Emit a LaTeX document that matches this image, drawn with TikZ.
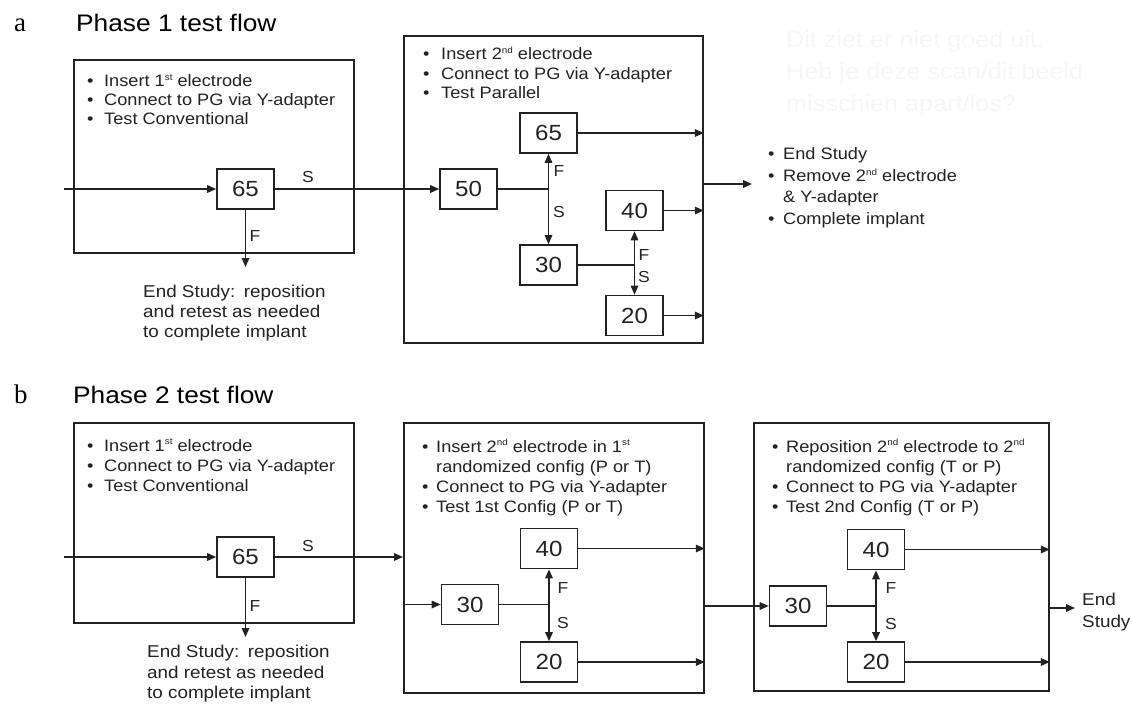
\documentclass[tikz,border=0pt]{standalone}
\usepackage{fontspec}
\setsansfont[FakeStretch=1.1]{Liberation Sans}
\newfontfamily\panelfont{Liberation Serif}
\usetikzlibrary{arrows.meta}
\definecolor{ink}{HTML}{222222}
\definecolor{ghost}{HTML}{F6F6F6}
\tikzset{
  frame/.style={draw=ink, line width=1.8bp, inner sep=0pt, anchor=north west},
  numbox/.style={draw=ink, line width=1.6bp, minimum width=57bp, minimum height=40bp, inner sep=0pt,
    font=\sffamily\fontsize{22}{22}\selectfont, text=ink},
  txt/.style={anchor=base west, inner sep=0pt, font=\sffamily\fontsize{16.6}{20}\selectfont, text=ink},
  endtxt/.style={anchor=base west, inner sep=0pt, font=\sffamily\fontsize{17.2}{20}\selectfont, text=ink},
  lbl/.style={anchor=base, inner sep=0pt, font=\sffamily\fontsize{16}{16}\selectfont, text=ink},
  ttl/.style={anchor=base west, inner sep=0pt, font=\sffamily\fontsize{24}{24}\selectfont, text=black},
  panel/.style={anchor=base west, inner sep=0pt, font=\panelfont\fontsize{27}{27}\selectfont, text=black},
  ghosttxt/.style={anchor=base west, inner sep=0pt, font=\sffamily\fontsize{23}{23}\selectfont, text=ghost},
  conn/.style={draw=ink, line width=1.6bp},
  arr/.style={conn, -{Triangle[length=9bp,width=7.5bp]}},
  arrtwo/.style={conn, {Triangle[length=9bp,width=7.5bp]}-{Triangle[length=9bp,width=7.5bp]}},
}
\newcommand\bitem[5]{\node[txt] (#1) at (#2,#3) {\makebox[#4][l]{\textbullet}#5};}
\newcommand\supx[1]{\raisebox{0.42em}{\fontsize{9}{9}\selectfont #1}}
\newcommand\sth{\supx{st}}
\newcommand\ndh{\supx{nd}}
\begin{document}
\begin{tikzpicture}[x=1bp,y=-1bp]
\useasboundingbox (0,0) rectangle (1132,704);

% ghost text (bleed-through)
\node[ghosttxt] (g1) at (786,48) {Dit ziet er niet goed uit.};
\node[ghosttxt] (g2) at (786,80) {Heb je deze scan/dit beeld};
\node[ghosttxt] (g3) at (786,112) {misschien apart/los?};

% ================= Panel a =================
\node[panel] (pa) at (14,32) {a};
\node[ttl] (ta) at (76,32) {Phase 1 test flow};

\node[frame, minimum width=280bp, minimum height=193bp] (A1) at (73,59) {};
\bitem{a1l1}{87}{87}{17bp}{Insert 1\sth\ electrode}
\bitem{a1l2}{87}{106}{17bp}{Connect to PG via Y-adapter}
\bitem{a1l3}{87}{125}{17bp}{Test Conventional}

\node[numbox] (a65) at (245.5,189) {65};
\coordinate (ain) at (64,189);
\coordinate (aF) at (245.5,267);
\node[lbl] (aS1) at (308,183) {S};
\node[lbl] (aF1) at (255,241) {F};
\node[endtxt] (ae1) at (143,297) {End Study:\hspace{0.5em}reposition};
\node[endtxt] (ae2) at (143,317) {and retest as needed};
\node[endtxt] (ae3) at (143,337) {to complete implant};

\node[frame, minimum width=299bp, minimum height=307bp] (A2) at (403,35) {};
\bitem{a2l1}{423}{60}{18bp}{Insert 2\ndh\ electrode}
\bitem{a2l2}{423}{80}{18bp}{Connect to PG via Y-adapter}
\bitem{a2l3}{423}{99}{18bp}{Test Parallel}

\node[numbox] (a50) at (468.5,189) {50};
\node[numbox] (a65b) at (548.5,133) {65};
\node[numbox] (a30) at (548.5,265) {30};
\node[numbox] (a40) at (634.5,210.5) {40};
\node[numbox] (a20) at (634.5,315.5) {20};
\coordinate (aj1) at (548.5,189);
\coordinate (aj2) at (634.5,265);
\node[lbl] (aF2) at (559,177) {F};
\node[lbl] (aS2) at (559,218) {S};
\node[lbl] (aF3) at (644,260) {F};
\node[lbl] (aS3) at (644,282) {S};
\coordinate (aout) at (752,184);

\bitem{r1}{768}{160}{15bp}{End Study}
\bitem{r2}{768}{182}{15bp}{Remove 2\ndh\ electrode}
\node[txt] (r3) at (783,203) {\& Y-adapter};
\bitem{r4}{768}{225}{15bp}{Complete implant}

\draw[arr] (ain) -- (a65);
\draw[arr] (a65) -- (a50);
\draw[arr] (a65.south) -- (aF);
\draw[conn] (a50) -- (aj1);
\draw[arrtwo] (a65b.south) -- (a30.north);
\draw[conn] (a30) -- (aj2);
\draw[arrtwo] (a40.south) -- (a20.north);
\draw[arr] (a65b) -- (a65b -| A2.east);
\draw[arr] (a40) -- (a40 -| A2.east);
\draw[arr] (a20) -- (a20 -| A2.east);
\draw[arr] (aout -| A2.east) -- (aout);

% ================= Panel b =================
\node[panel] (pb) at (14,403) {b};
\node[ttl] (tb) at (73,403) {Phase 2 test flow};

\node[frame, minimum width=280bp, minimum height=200bp] (B1) at (73,422) {};
\bitem{b1l1}{87}{451}{17bp}{Insert 1\sth\ electrode}
\bitem{b1l2}{87}{471}{17bp}{Connect to PG via Y-adapter}
\bitem{b1l3}{87}{491}{17bp}{Test Conventional}

\node[numbox] (b65) at (245.5,557) {65};
\coordinate (bin) at (64,557);
\coordinate (bF) at (245.5,637);
\node[lbl] (bS1) at (308,551) {S};
\node[lbl] (bF1) at (255,611) {F};
\node[endtxt] (be1) at (147,657) {End Study:\hspace{0.5em}reposition};
\node[endtxt] (be2) at (147,678) {and retest as needed};
\node[endtxt] (be3) at (147,698) {to complete implant};

\node[frame, minimum width=300bp, minimum height=270bp] (B2) at (403,422) {};
\bitem{b2l1}{422}{452}{14bp}{Insert 2\ndh\ electrode in 1\sth}
\node[txt] (b2l2) at (436,472) {randomized config (P or T)};
\bitem{b2l3}{422}{492}{14bp}{Connect to PG via Y-adapter}
\bitem{b2l4}{422}{512}{14bp}{Test 1st Config (P or T)}

\node[numbox] (b30) at (470,604.5) {30};
\node[numbox] (b40) at (549,548.5) {40};
\node[numbox] (b20) at (549,662) {20};
\coordinate (bj) at (549,604.5);
\node[lbl] (bF2) at (563,593) {F};
\node[lbl] (bS2) at (563,628) {S};

\node[frame, minimum width=295bp, minimum height=268bp] (B3) at (753,422) {};
\bitem{b3l1}{772}{452}{14bp}{Reposition 2\ndh\ electrode to 2\ndh}
\node[txt] (b3l2) at (786,472) {randomized config (T or P)};
\bitem{b3l3}{772}{492}{14bp}{Connect to PG via Y-adapter}
\bitem{b3l4}{772}{512}{14bp}{Test 2nd Config (T or P)}

\node[numbox] (c30) at (798,606) {30};
\node[numbox] (c40) at (876,549.5) {40};
\node[numbox] (c20) at (876,662) {20};
\coordinate (cj) at (876,606);
\node[lbl] (cF) at (891,593) {F};
\node[lbl] (cS) at (891,629) {S};
\coordinate (cout) at (1075,608);
\node[endtxt] (cE1) at (1082,605) {End};
\node[endtxt] (cE2) at (1082,627) {Study};

\draw[arr] (bin) -- (b65);
\draw[arr] (b65) -- (b65 -| B2.west);
\draw[arr] (b65.south) -- (bF);
\draw[arr] (b30 -| B2.west) -- (b30);
\draw[conn] (b30) -- (bj);
\draw[arrtwo] (b40.south) -- (b20.north);
\draw[arr] (b40) -- (b40 -| B2.east);
\draw[arr] (b20) -- (b20 -| B2.east);
\draw[arr] (B2.east |- c30) -- (c30);
\draw[conn] (c30) -- (cj);
\draw[arrtwo] (c40.south) -- (c20.north);
\draw[arr] (c40) -- (c40 -| B3.east);
\draw[arr] (c20) -- (c20 -| B3.east);
\draw[arr] (cout -| B3.east) -- (cout);
\end{tikzpicture}
\end{document}
